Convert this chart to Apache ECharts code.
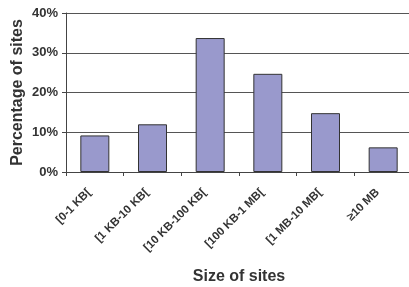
<!DOCTYPE html>
<html>
<head>
<meta charset="utf-8">
<script src="https://cdn.jsdelivr.net/npm/echarts@6/dist/echarts.min.js"></script>
<style>
  html, body { margin: 0; padding: 0; background: #fff; }
  #chart { width: 409px; height: 287px; }
</style>
</head>
<body>
<div id="chart"></div>
<script>
let categories = ['[0-1 KB[', '[1 KB-10 KB[', '[10 KB-100 KB[', '[100 KB-1 MB[', '[1 MB-10 MB[', '≥10 MB'];
let siteShare = [9.2, 12.0, 33.7, 24.7, 14.8, 6.2];
let yTicks = [0, 10, 20, 30, 40];

let myChart = echarts.init(document.getElementById('chart'));
let fontFam = 'Liberation Sans, Arial, sans-serif';

let option = {
    animation: false,
    grid: {
        left: 66,
        right: -3,
        top: 13,
        bottom: 115,
        containLabel: false,
        outerBoundsMode: 'none'
    },
    xAxis: {
        type: 'category',
        data: categories,
        name: 'Size of sites',
        nameLocation: 'middle',
        nameGap: 97,
        nameMoveOverlap: false,
        nameTextStyle: { fontFamily: fontFam, fontWeight: 'bold', fontSize: 16, color: '#333' },
        axisLine: { lineStyle: { color: '#444', width: 1 } },
        axisTick: { show: true, length: 4, lineStyle: { color: '#444' } },
        axisLabel: {
            rotate: 45,
            interval: 0,
            margin: 13,
            padding: [0, 8, 0, 0],
            fontFamily: fontFam,
            fontWeight: 'bold',
            fontSize: 11.5,
            color: '#333'
        }
    },
    yAxis: {
        type: 'value',
        min: yTicks[0],
        max: yTicks[yTicks.length - 1],
        interval: 10,
        name: 'Percentage of sites',
        nameLocation: 'middle',
        nameGap: 40,
        nameMoveOverlap: false,
        nameTextStyle: { fontFamily: fontFam, fontWeight: 'bold', fontSize: 16, color: '#333' },
        axisLine: { show: true, lineStyle: { color: '#444', width: 1 } },
        axisTick: { show: true, length: 4, lineStyle: { color: '#444' } },
        axisLabel: {
            formatter: '{value}%',
            margin: 8,
            fontFamily: fontFam,
            fontWeight: 'bold',
            fontSize: 13,
            color: '#333'
        },
        splitLine: { show: true, lineStyle: { color: '#555', width: 1 } }
    },
    series: [{
        type: 'bar',
        data: siteShare,
        barWidth: 29,
        itemStyle: {
            color: '#9999cc',
            borderColor: '#333',
            borderWidth: 1
        }
    }]
};

myChart.setOption(option);
</script>
</body>
</html>
